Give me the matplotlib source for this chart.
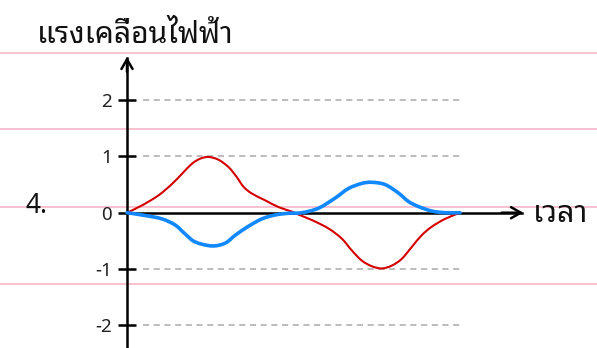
import matplotlib
matplotlib.use("Agg")
import matplotlib.pyplot as plt
from matplotlib.path import Path
from matplotlib.patches import PathPatch

plt.rcParams['font.family'] = ['Noto Sans Thai Looped', 'DejaVu Sans']

# values (time, emf)
red_t = [0.00, 0.18, 0.38, 0.54, 0.66, 0.78, 0.88, 0.98, 1.10, 1.22, 1.32, 1.40, 1.50,
         1.66, 1.82, 1.98, 2.02, 2.22, 2.42, 2.58, 2.70, 2.82, 2.94, 3.06, 3.18, 3.30,
         3.42, 3.54, 3.66, 3.82, 4.00]
red_v = [0.00, 0.13, 0.31, 0.51, 0.69, 0.87, 0.96, 0.99, 0.94, 0.81, 0.63, 0.46, 0.34,
         0.22, 0.10, 0.02, -0.01, -0.13, -0.28, -0.46, -0.67, -0.85, -0.95, -0.99, -0.94, -0.82,
         -0.61, -0.40, -0.25, -0.11, 0.00]

blue_t = [0.00, 0.22, 0.42, 0.58, 0.70, 0.82, 1.02, 1.18, 1.30, 1.46, 1.62, 1.78, 1.94,
          2.10, 2.30, 2.50, 2.66, 2.82, 2.94, 3.10, 3.26, 3.38, 3.50, 3.66, 3.82, 4.00]
blue_v = [0.00, -0.05, -0.11, -0.22, -0.38, -0.52, -0.59, -0.54, -0.40, -0.24, -0.11, -0.04, -0.01,
          0.00, 0.08, 0.26, 0.43, 0.52, 0.54, 0.50, 0.35, 0.20, 0.11, 0.03, 0.00, 0.00]

yticks = [-2, -1, 0, 1, 2]
ytick_labels = ['\u22122', '\u22121', '0', '1', '2']
grid_levels = [2, 1, -1, -2]
ylabel = 'แรงเคลื่อนไฟฟ้า'
xlabel = 'เวลา'
number = '4.'

# ruled lines of the worksheet page
page_lines = [2.842, 1.481, 0.107, -1.272]


def smooth_line(ax, xs, ys, **kw):
    # catmull-rom style bezier through the read points, so the curve is not jagged
    pts = list(zip(xs, ys))
    n = len(pts)
    verts = [pts[0]]
    codes = [Path.MOVETO]
    for i in range(n - 1):
        p0 = pts[max(i - 1, 0)]
        p1 = pts[i]
        p2 = pts[i + 1]
        p3 = pts[min(i + 2, n - 1)]
        c1 = (p1[0] + (p2[0] - p0[0]) / 6, p1[1] + (p2[1] - p0[1]) / 6)
        c2 = (p2[0] - (p3[0] - p1[0]) / 6, p2[1] - (p3[1] - p1[1]) / 6)
        verts += [c1, c2, p2]
        codes += [Path.CURVE4] * 3
    patch = PathPatch(Path(verts, codes), fill=False, capstyle='round', joinstyle='round', **kw)
    ax.add_patch(patch)
    return patch


fig = plt.figure(figsize=(5.97, 3.48), dpi=100)
ax = fig.add_axes([0, 0, 1, 1])
ax.set_xlim(-1.5255, 5.6456)
ax.set_ylim(-2.403, 3.778)

for y in page_lines:
    ax.axhline(y, color='#f8bccc', lw=1.3, zorder=0)

ax.hlines(grid_levels, 0.19, 4.02, colors='#aaaaaa', linestyles=(0, (4, 3)), lw=1.1, zorder=1)

# axes with arrow heads
ax.spines['top'].set_visible(False)
ax.spines['right'].set_visible(False)
ax.spines['left'].set_position(('data', 0))
ax.spines['bottom'].set_position(('data', 0))
ax.spines['left'].set_bounds(-2.40, 2.74)
ax.spines['bottom'].set_bounds(0, 4.74)
for s in ['left', 'bottom']:
    ax.spines[s].set_linewidth(1.8)
    ax.spines[s].set_zorder(2)
ax.annotate('', xy=(0, 2.77), xytext=(0, 2.5),
            arrowprops=dict(arrowstyle='->,head_length=0.7,head_width=0.4', lw=1.8, color='black',
                            shrinkA=0, shrinkB=0))
ax.annotate('', xy=(4.76, 0), xytext=(4.5, 0),
            arrowprops=dict(arrowstyle='->,head_length=0.7,head_width=0.4', lw=1.8, color='black',
                            shrinkA=0, shrinkB=0))

ax.set_xticks([])
ax.set_yticks(yticks)
ax.set_yticklabels(ytick_labels)
ax.tick_params(axis='y', direction='inout', length=13.5, width=1.8, pad=4,
               labelsize=13.5, labelcolor='#222222')

smooth_line(ax, red_t, red_v, edgecolor='#d40000', lw=1.5, zorder=3)
smooth_line(ax, blue_t, blue_v, edgecolor='#1188ff', lw=2.6, zorder=3)

ax.text(-1.085, 3.02, ylabel, fontsize=21.7, va='baseline', ha='left', color='#111111')
ax.text(4.877, -0.16, xlabel, fontsize=22, va='baseline', ha='left', color='#111111')
ax.text(-1.225, 0, number, fontsize=19, va='baseline', ha='left', color='#111111')

fig.savefig('out.png', dpi=100)
